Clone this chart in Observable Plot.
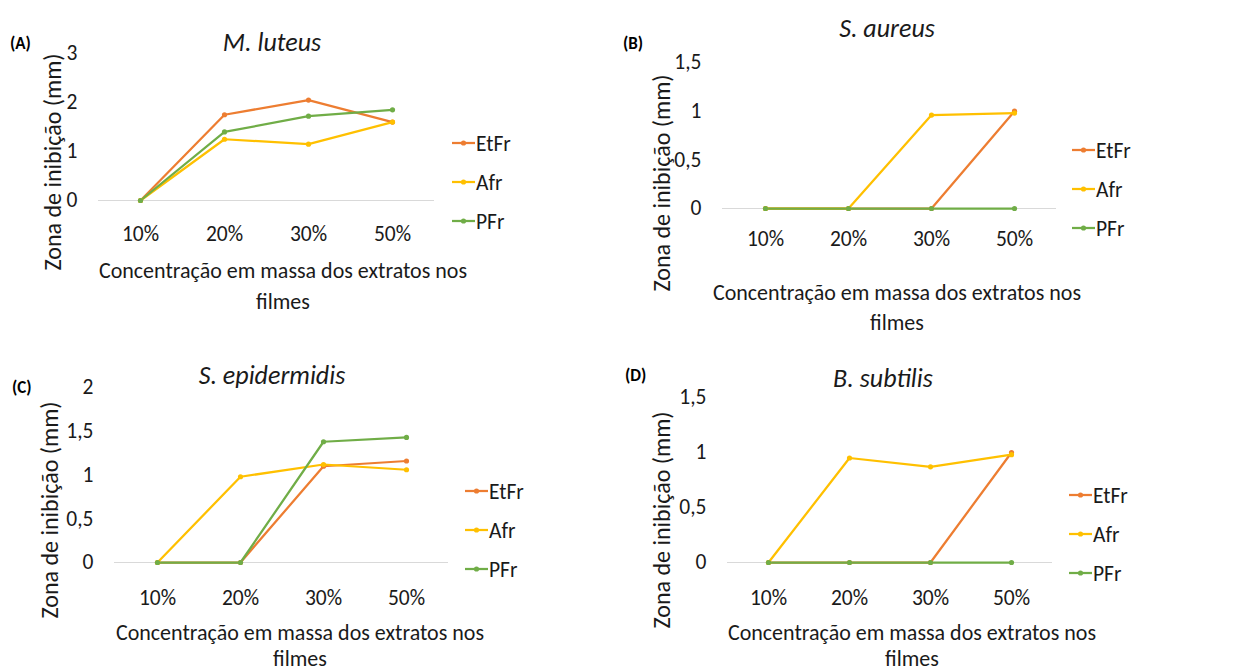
<!DOCTYPE html>
<html>
<head>
<meta charset="utf-8">
<script src="https://cdn.jsdelivr.net/npm/d3@7"></script>
<script src="https://cdn.jsdelivr.net/npm/@observablehq/plot@0.6"></script>
<style>
  html, body { margin: 0; padding: 0; background: #fff; }
  #grid { position: relative; width: 1237px; height: 672px; overflow: hidden; }
  #grid svg { position: absolute; overflow: visible; }
</style>
</head>
<body>
<div id="grid"></div>
<script>
// Concentrations (x categories) and extract series
const concentracoes = ["10%", "20%", "30%", "50%"];
const extratos = ["EtFr", "Afr", "PFr"];
const cores = ["#ED7D31", "#FFC000", "#70AD47"];

// Inhibition zone (mm) per extract, per organism
const luteusEtFr = [0, 1.75, 2.05, 1.6];
const luteusAfr = [0, 1.25, 1.15, 1.6];
const luteusPFr = [0, 1.4, 1.72, 1.85];

const aureusEtFr = [0, 0, 0, 1.0];
const aureusAfr = [0, 0, 0.96, 0.98];
const aureusPFr = [0, 0, 0, 0];

const epidermidisEtFr = [0, 0, 1.1, 1.16];
const epidermidisAfr = [0, 0.98, 1.12, 1.06];
const epidermidisPFr = [0, 0, 1.38, 1.43];

const subtilisEtFr = [0, 0, 0, 1.0];
const subtilisAfr = [0, 0.95, 0.87, 0.98];
const subtilisPFr = [0, 0, 0, 0];

// y-axis ticks of each panel
const ticksLuteus = [0, 1, 2, 3];
const ticksAureus = [0, 0.5, 1, 1.5];
const ticksEpidermidis = [0, 0.5, 1, 1.5, 2];
const ticksSubtilis = [0, 0.5, 1, 1.5];

const yLabel = "Zona de inibição (mm)";
const xLabel1 = "Concentração em massa dos extratos nos";
const xLabel2 = "filmes";

const FONT = "Carlito, Lato, sans-serif";
const INK = "#1a1a1a";
const TICK = 21.5, LABEL = 22, YLABEL = 24, TITLE = 26, LETTER = 17;
const W = 618, H = 336;

function rows(seriesValues) {
  const out = [];
  extratos.forEach((s, i) => {
    seriesValues[i].forEach((v, j) => out.push({serie: s, conc: concentracoes[j], valor: v}));
  });
  return out;
}

const fmt = d => String(d).replace(".", ",");

function panel(cfg) {
  const data = rows(cfg.values);
  const svg = Plot.plot({
    width: W,
    height: H,
    marginLeft: cfg.m[0],
    marginRight: cfg.m[1],
    marginTop: cfg.m[2],
    marginBottom: cfg.m[3],
    style: {fontFamily: FONT, fontSize: TICK + "px", color: INK, background: "transparent", overflow: "visible"},
    x: {type: "point", domain: concentracoes, padding: 0.5, label: null},
    y: {domain: cfg.domain, label: null},
    color: {domain: extratos, range: cores},
    marks: [
      Plot.ruleY([0], {stroke: "#d9d9d9", strokeWidth: 1}),
      Plot.axisY({ticks: cfg.ticks, tickSize: 0, tickPadding: 21, tickFormat: fmt, label: null, fill: INK, fontSize: TICK}),
      Plot.axisX({tickSize: 0, tickPadding: cfg.xPad, label: null, fill: INK, fontSize: TICK}),
      Plot.line(data, {x: "conc", y: "valor", z: "serie", stroke: "serie", strokeWidth: 2.25, strokeLinejoin: "round"}),
      Plot.dot(data, {x: "conc", y: "valor", fill: "serie", r: 2.6})
    ]
  });
  svg.style.left = cfg.left + "px";
  svg.style.top = cfg.top + "px";

  const g = d3.select(svg).append("g")
    .attr("font-family", FONT).attr("fill", INK).attr("text-anchor", "start");
  // panel letter
  g.append("text").text(cfg.letter)
    .attr("x", cfg.letterPos[0]).attr("y", cfg.letterPos[1])
    .attr("dy", "0.35em").attr("font-size", LETTER).attr("font-weight", "bold").attr("fill", "#000");
  // organism title
  g.append("text").text(cfg.title)
    .attr("x", cfg.titlePos[0]).attr("y", cfg.titlePos[1])
    .attr("dy", "0.35em").attr("text-anchor", "middle")
    .attr("font-size", TITLE).attr("font-style", "italic");
  // y axis title
  g.append("text").text(yLabel)
    .attr("transform", `translate(${cfg.yLabelPos[0]},${cfg.yLabelPos[1]}) rotate(-90)`)
    .attr("dy", "0.35em").attr("text-anchor", "middle")
    .attr("font-size", YLABEL);
  // x axis title (two lines)
  g.append("text").text(xLabel1)
    .attr("x", cfg.xLabelPos[0]).attr("y", cfg.xLabelPos[1])
    .attr("dy", "0.35em").attr("text-anchor", "middle")
    .attr("font-size", LABEL);
  g.append("text").text(xLabel2)
    .attr("x", cfg.xLabelPos[0]).attr("y", cfg.xLabelPos[1] + cfg.lineGap)
    .attr("dy", "0.35em").attr("text-anchor", "middle")
    .attr("font-size", LABEL);
  // legend
  const leg = g.append("g").attr("transform", `translate(${cfg.legendPos[0]},${cfg.legendPos[1]})`);
  extratos.forEach((s, i) => {
    const e = leg.append("g").attr("transform", `translate(0,${i * 39})`);
    e.append("line").attr("x1", 0).attr("x2", 23).attr("stroke", cores[i]).attr("stroke-width", 2.25);
    e.append("circle").attr("cx", 11.5).attr("r", 2.6).attr("fill", cores[i]);
    e.append("text").text(s).attr("x", 24).attr("dy", "0.35em").attr("font-size", TICK);
  });
  document.getElementById("grid").appendChild(svg);
}

panel({
  left: 0, top: 0, m: [98, 184, 53, 136], domain: [0, 3], ticks: ticksLuteus, xPad: 25,
  values: [luteusEtFr, luteusAfr, luteusPFr],
  letter: "(A)", letterPos: [10, 43], title: "M. luteus", titlePos: [272, 42],
  yLabelPos: [53, 162], xLabelPos: [283, 270], lineGap: 31, legendPos: [452, 143]
});
panel({
  left: 618, top: 0, m: [104, 180, 62, 128], domain: [0, 1.5], ticks: ticksAureus, xPad: 22,
  values: [aureusEtFr, aureusAfr, aureusPFr],
  letter: "(B)", letterPos: [5, 43], title: "S. aureus", titlePos: [269, 28],
  yLabelPos: [44, 183], xLabelPos: [279, 292], lineGap: 30, legendPos: [454, 150]
});
panel({
  left: 0, top: 336, m: [114, 170, 51, 110], domain: [0, 2], ticks: ticksEpidermidis, xPad: 27,
  values: [epidermidisEtFr, epidermidisAfr, epidermidisPFr],
  letter: "(C)", letterPos: [12, 51], title: "S. epidermidis", titlePos: [272, 39],
  yLabelPos: [50, 174], xLabelPos: [300, 296], lineGap: 26, legendPos: [465, 155]
});
panel({
  left: 618, top: 336, m: [109, 184, 61, 110], domain: [0, 1.5], ticks: ticksSubtilis, xPad: 27,
  values: [subtilisEtFr, subtilisAfr, subtilisPFr],
  letter: "(D)", letterPos: [7, 39], title: "B. subtilis", titlePos: [265, 42],
  yLabelPos: [44, 184], xLabelPos: [294, 296], lineGap: 26, legendPos: [451, 159]
});
</script>
</body>
</html>
